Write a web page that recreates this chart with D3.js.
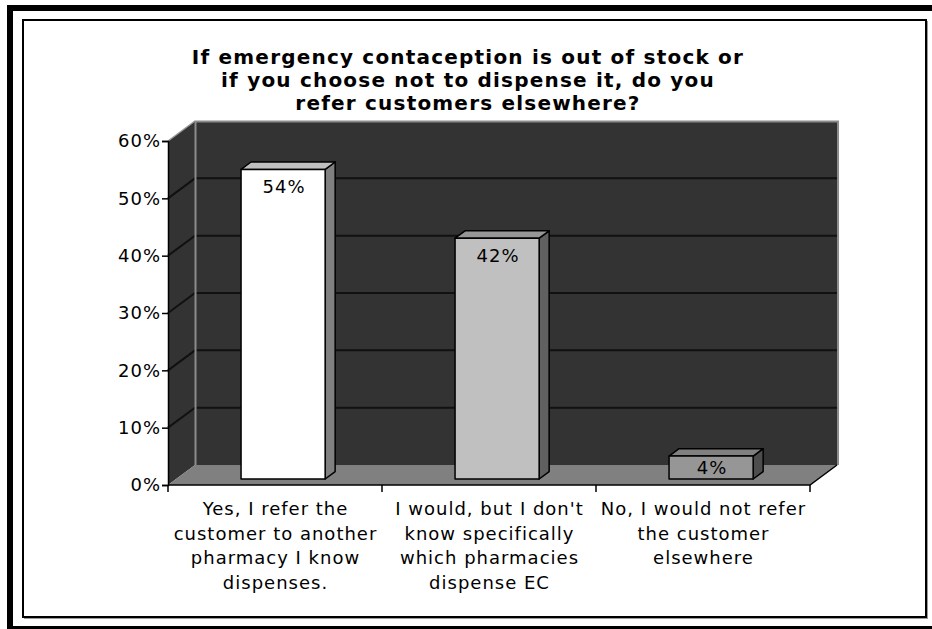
<!DOCTYPE html>
<html>
<head>
<meta charset="utf-8">
<script src="https://cdn.jsdelivr.net/npm/d3@7"></script>
<style>
    body { margin: 0; background: #fff; }
    svg text { font-family: "DejaVu Sans", Verdana, sans-serif; fill: #000; }
</style>
</head>
<body>
<svg id="chart" width="932" height="629"></svg>
<script>
// chart data
const titleLines = [
    "If emergency contaception is out of stock or",
    "if you choose not to dispense it, do you",
    "refer customers elsewhere?"
]
const categories = ["yes", "unsure", "no"]
const categoryLabels = [
    ["Yes, I refer the", "customer to another", "pharmacy I know", "dispenses."],
    ["I would, but I don't", "know specifically", "which pharmacies", "dispense EC"],
    ["No, I would not refer", "the customer", "elsewhere"]
]
const values = [0.54, 0.42, 0.04]
const valueLabels = ["54%", "42%", "4%"]
const yTicks = [0, 0.1, 0.2, 0.3, 0.4, 0.5, 0.6]

// bar colours: front, top, side
const barColors = [
    ["#ffffff", "#c0c0c0", "#808080"],
    ["#c0c0c0", "#969696", "#606060"],
    ["#969696", "#808080", "#4d4d4d"]
]

const svg = d3.select("#chart")

// frames
svg.append("rect")
    .attr("x", 10).attr("y", 8).attr("width", 940).attr("height", 621)
    .attr("fill", "none").attr("stroke", "#000").attr("stroke-width", 6)
svg.append("rect")
    .attr("x", 23).attr("y", 20).attr("width", 903).attr("height", 597)
    .attr("fill", "none").attr("stroke", "#000").attr("stroke-width", 2)
svg.append("line")
    .attr("x1", 24).attr("y1", 618.5).attr("x2", 927).attr("y2", 618.5)
    .attr("stroke", "#999").attr("stroke-width", 1)
svg.append("line")
    .attr("x1", 927.5).attr("y1", 21).attr("x2", 927.5).attr("y2", 619)
    .attr("stroke", "#999").attr("stroke-width", 1)

// title
svg.append("g").selectAll("text").data(titleLines).enter().append("text")
    .attr("x", 468)
    .attr("y", (d, i) => 64 + i * 23)
    .attr("text-anchor", "middle")
    .attr("font-size", 20)
    .attr("font-weight", "bold")
    .attr("letter-spacing", 1.2)
    .text(d => d)

// plot geometry
const plotLeft = 168, plotRight = 810, plotBottom = 485, plotTop = 141
const DX = 27, DY = -20   // depth of the 3d box

const y = d3.scaleLinear().domain([0, 0.6]).range([plotBottom, plotTop])
const x = d3.scaleBand().domain(categories).range([plotLeft, plotRight])
    .paddingInner(0.607).paddingOuter(0.3035)

const pts = arr => arr.map(p => p.join(",")).join(" ")

// back wall
svg.append("polygon")
    .attr("points", pts([[plotLeft + DX, y(0.6) + DY], [plotRight + DX, y(0.6) + DY],
        [plotRight + DX, y(0) + DY], [plotLeft + DX, y(0) + DY]]))
    .attr("fill", "#333333")
// left wall
svg.append("polygon")
    .attr("points", pts([[plotLeft, y(0.6)], [plotLeft + DX, y(0.6) + DY],
        [plotLeft + DX, y(0) + DY], [plotLeft, y(0)]]))
    .attr("fill", "#333333")

// grid lines on back and left walls
const grid = svg.append("g")
yTicks.filter(t => t > 0 && t < 0.6).forEach(t => {
    grid.append("polyline")
        .attr("points", pts([[plotLeft, y(t)], [plotLeft + DX, y(t) + DY], [plotRight + DX, y(t) + DY]]))
        .attr("fill", "none")
        .attr("stroke", "#111")
        .attr("stroke-width", 2)
})
grid.append("line")
    .attr("x1", plotLeft).attr("y1", y(0.6)).attr("x2", plotLeft + DX).attr("y2", y(0.6) + DY)
    .attr("stroke", "#999").attr("stroke-width", 1.5)
grid.append("polyline")
    .attr("points", pts([[plotLeft + DX + 0.5, y(0) + DY], [plotLeft + DX + 0.5, y(0.6) + DY + 0.5],
        [plotRight + DX + 1, y(0.6) + DY + 0.5], [plotRight + DX + 1, y(0) + DY]]))
    .attr("fill", "none").attr("stroke", "#8c8c8c").attr("stroke-width", 2)

// floor
svg.append("polygon")
    .attr("points", pts([[plotLeft, y(0)], [plotRight, y(0)], [plotRight + DX, y(0) + DY], [plotLeft + DX, y(0) + DY]]))
    .attr("fill", "#808080")
svg.append("polyline")
    .attr("points", pts([[plotLeft, y(0)], [plotRight, y(0)], [plotRight + DX, y(0) + DY]]))
    .attr("fill", "none").attr("stroke", "#000").attr("stroke-width", 1.5)

// bars
const bf = 0.3, bd = 0.37   // front offset and depth as fraction of box depth
const bars = svg.append("g")
values.forEach((v, i) => {
    const x0 = x(categories[i]) + DX * bf, x1 = x0 + x.bandwidth()
    const y0 = y(0) + DY * bf, y1 = y(v) + DY * bf
    const dx = DX * bd, dy = DY * bd
    const c = barColors[i]
    const g = bars.append("g").attr("stroke", "#000").attr("stroke-width", 1.5)
        .attr("stroke-linejoin", "round")
    g.append("polygon")
        .attr("points", pts([[x1, y1], [x1 + dx, y1 + dy], [x1 + dx, y0 + dy], [x1, y0]]))
        .attr("fill", c[2])
    g.append("polygon")
        .attr("points", pts([[x0, y1], [x0 + dx, y1 + dy], [x1 + dx, y1 + dy], [x1, y1]]))
        .attr("fill", c[1])
    g.append("rect")
        .attr("x", x0).attr("y", y1).attr("width", x1 - x0).attr("height", y0 - y1)
        .attr("fill", c[0])
    // label inside the top of the bar, centred when the bar is too short
    bars.append("text")
        .attr("x", (x0 + x1) / 2 + 1)
        .attr("y", Math.min(y1 + 24, (y0 + y1) / 2 + 6.5))
        .attr("text-anchor", "middle")
        .attr("font-size", 18)
        .attr("letter-spacing", 1)
        .attr("fill", "#000")
        .text(valueLabels[i])
})

// y axis
const yAxis = svg.append("g")
    .attr("transform", `translate(${plotLeft},0)`)
    .call(d3.axisLeft(y).tickValues(yTicks).tickFormat(d3.format(".0%")).tickSize(6).tickPadding(1))
yAxis.select(".domain").attr("stroke", "#000").attr("stroke-width", 1.5)
yAxis.selectAll(".tick line").attr("stroke", "#000").attr("stroke-width", 1.5)
yAxis.selectAll("text").attr("font-size", 18).attr("letter-spacing", 1)
    .attr("font-family", "DejaVu Sans")

// category ticks
const step = x.step()
svg.append("g").selectAll("line").data(d3.range(categories.length + 1)).enter().append("line")
    .attr("x1", i => plotLeft + i * step).attr("x2", i => plotLeft + i * step)
    .attr("y1", plotBottom).attr("y2", plotBottom + 7)
    .attr("stroke", "#000").attr("stroke-width", 1.5)

// category labels
categoryLabels.forEach((lines, i) => {
    svg.append("g").selectAll("text").data(lines).enter().append("text")
        .attr("x", x(categories[i]) + x.bandwidth() / 2 + 0.5)
        .attr("y", (d, j) => 515 + j * 24.5)
        .attr("text-anchor", "middle")
        .attr("font-size", 18)
        .attr("letter-spacing", 1)
        .text(d => d)
})
</script>
</body>
</html>
